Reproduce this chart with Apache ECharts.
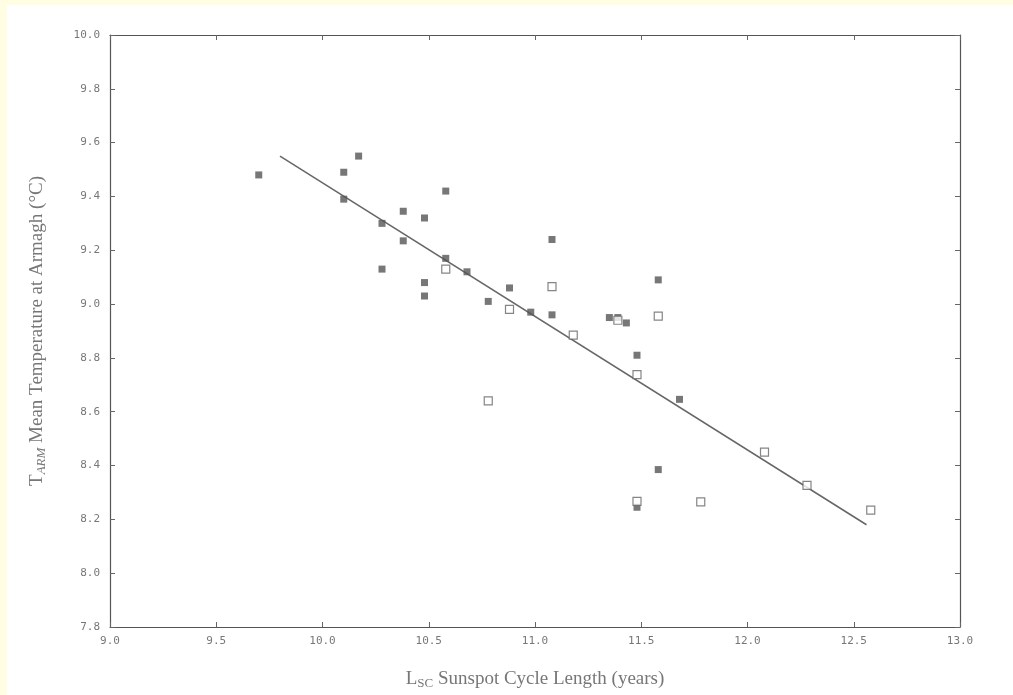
<!DOCTYPE html>
<html><head><meta charset="utf-8">
<script src="https://cdn.jsdelivr.net/npm/echarts@6/dist/echarts.min.js"></script>
<style>html,body{margin:0;padding:0;background:#fffde2;}
#card{position:absolute;left:7px;top:5px;right:0;bottom:0;background:#fff;}
#c{position:absolute;left:0;top:0;width:1013px;height:695px;}</style>
</head><body><div id="card"></div><div id="c"></div>
<script>
const xTicks = [9.0, 9.5, 10.0, 10.5, 11.0, 11.5, 12.0, 12.5, 13.0];
const yTicks = [7.8, 8.0, 8.2, 8.4, 8.6, 8.8, 9.0, 9.2, 9.4, 9.6, 9.8, 10.0];
const filledPts = [
  [9.7, 9.48], [10.1, 9.49], [10.1, 9.39], [10.17, 9.55], [10.28, 9.30], [10.28, 9.13],
  [10.38, 9.345], [10.38, 9.235], [10.48, 9.32], [10.48, 9.08], [10.48, 9.03],
  [10.58, 9.42], [10.58, 9.17], [10.68, 9.12], [10.78, 9.01], [10.88, 9.06],
  [10.98, 8.97], [11.08, 9.24], [11.08, 8.96], [11.35, 8.95], [11.39, 8.95],
  [11.43, 8.93], [11.58, 9.09], [11.48, 8.81], [11.68, 8.646], [11.58, 8.385], [11.48, 8.245]
];
const hollowPts = [
  [10.58, 9.13], [10.88, 8.98], [11.08, 9.065], [11.18, 8.885], [11.39, 8.94],
  [11.58, 8.955], [11.48, 8.738], [10.78, 8.64], [11.48, 8.267], [11.78, 8.265],
  [12.08, 8.45], [12.28, 8.326], [12.58, 8.234]
];
const fitLine = [[9.8, 9.55], [12.56, 8.18]];

const chart = echarts.init(document.getElementById('c'));
const labelFont = {color:'#777', fontFamily:'DejaVu Sans Mono', fontSize:11};
const baseX = {type:'value', min:9, max:13, interval:0.5,
  axisLine:{show:true, onZero:false, lineStyle:{color:'#555', width:1.2}},
  axisTick:{show:true, inside:true, length:5, lineStyle:{color:'#666'}},
  splitLine:{show:false}};
const baseY = {type:'value', min:7.8, max:10.0, interval:0.2,
  axisLine:{show:true, onZero:false, lineStyle:{color:'#555', width:1.2}},
  axisTick:{show:true, inside:true, length:5, lineStyle:{color:'#666'}},
  splitLine:{show:false}};
chart.setOption({
  backgroundColor:'transparent',
  animation:false,
  grid:{left:110, right:53, top:35, bottom:63},
  xAxis:[
    Object.assign({}, baseX, {position:'bottom',
      axisLabel:Object.assign({}, labelFont, {margin:9, formatter:v=>v.toFixed(1)}),
      name:'{m|L}{s|SC}{m| Sunspot Cycle Length (years)}', nameLocation:'middle', nameGap:42,
      nameTextStyle:{rich:{m:{fontFamily:'Liberation Serif', fontSize:19, color:'#777'},
                           s:{fontFamily:'Liberation Serif', fontSize:13, color:'#777', verticalAlign:'bottom', padding:[8,0,0,0]}}}}),
    Object.assign({}, baseX, {position:'top', axisLabel:{show:false}})
  ],
  yAxis:[
    Object.assign({}, baseY, {position:'left',
      axisLabel:Object.assign({}, labelFont, {margin:10, formatter:v=>v.toFixed(1)}),
      name:'{m|T}{s|ARM}{m| Mean Temperature at Armagh (°C)}', nameLocation:'middle', nameGap:62,
      nameTextStyle:{rich:{m:{fontFamily:'Liberation Serif', fontSize:19, color:'#777'},
                           s:{fontFamily:'Liberation Serif', fontStyle:'italic', fontSize:13, color:'#777', padding:[8,0,0,0]}}}}),
    Object.assign({}, baseY, {position:'right', axisLabel:{show:false}})
  ],
  series:[
    {type:'line', data:fitLine, symbol:'none', lineStyle:{color:'#666', width:1.5}, z:1},
    {type:'scatter', data:filledPts, symbol:'rect', symbolSize:7, itemStyle:{color:'#555'}, z:3},
    {type:'scatter', data:hollowPts, symbol:'rect', symbolSize:8, itemStyle:{color:'#fff', borderColor:'#666', borderWidth:1.2}, z:4}
  ]
});
</script></body></html>
